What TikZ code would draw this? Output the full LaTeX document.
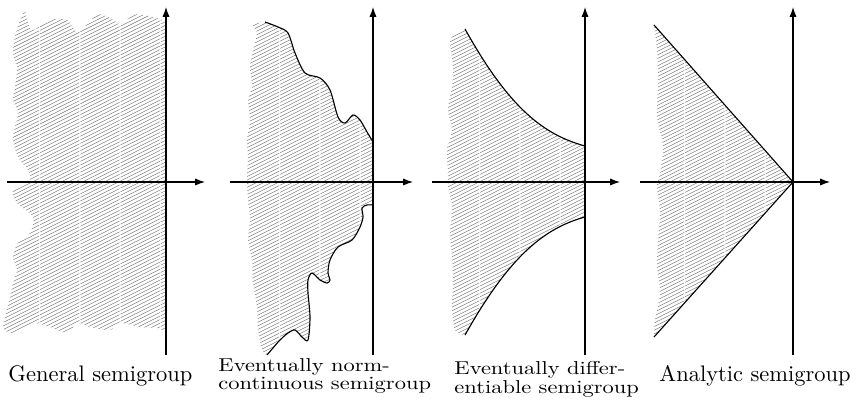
\documentclass[tikz,border=0pt]{standalone}
\usepackage{amsfonts,amssymb,amsmath}
\usepackage{tikz}
\usetikzlibrary{arrows.meta}

\tikzset{
  axis/.style={line width=0.5pt,-{Latex[length=4.4pt,width=3.2pt]}},
  edge/.style={line width=0.5pt},
  hatch/.style={draw=black!55,line width=0.2pt,dash pattern=on 19.5pt off 0.5pt},
  lbl/.style={anchor=base west,inner sep=0pt,font=\fontsize{10}{12}\selectfont},
  lbltwo/.style={lbl,align=left,yscale=0.83,font=\fontsize{10}{7}\selectfont}
}
\newcommand{\hatchlines}[1]{\foreach \k in {0,...,130}{\draw[hatch](#1,\k*3.6)--++(180,-90);}}

\begin{document}
\begin{tikzpicture}[x=0.01564cm,y=-0.01564cm]
\useasboundingbox (0,0) rectangle (856,404);
% general semigroup
\begin{scope}
\clip plot[smooth] coordinates {(25,10) (20,20) (15,37) (13,53) (17,67) (15,87) (13,100) (18,113) (15,127) (13,140) (18,157) (28,170) (30,180) (13,190) (17,203) (33,217) (30,233) (18,243) (13,257) (17,270) (13,283) (10,297) (7,310) (3,327) (10,333) (20,330) (33,323) (50,327) (67,333) (77,323) (90,327) (110,330) (120,323) (140,327) (157,328) (166,332)}
  -- (166,22) -- plot[smooth] coordinates {(166,22) (157,18) (143,15) (132,15) (122,25) (110,18) (97,15) (78,32) (67,20) (50,20) (32,30) (25,10)} -- cycle;
\hatchlines{0}
\end{scope}
\draw[axis](7,182)--(205,182);
\draw[axis](166,355)--(166,7);
% eventually norm-continuous
\begin{scope}
\clip plot[smooth] coordinates {(265,22) (253,25) (257,33) (253,50) (250,67) (252,87) (248,100) (250,120) (247,140) (248,157) (247,180) (248,200) (250,220) (248,240) (252,260) (253,283) (257,307) (258,330) (262,350) (267,355)}
  -- plot[smooth] coordinates {(267,355) (273,348) (280,340) (288,333) (295,330) (302,337) (308,340) (310,317) (308,293) (308,280) (312,273) (320,280) (327,283) (330,280) (328,273) (330,260) (338,247) (352,240) (360,227) (363,217) (362,208) (367,205) (373,205)}
  -- (373,142) -- plot[smooth] coordinates {(372,142) (367,132) (360,120) (353,115) (345,123) (338,117) (330,90) (320,78) (305,73) (295,53) (288,33) (278,27) (265,22)} -- cycle;
\hatchlines{240}
\end{scope}
\draw[edge] plot[smooth] coordinates {(265,22) (278,27) (288,33) (295,53) (305,73) (320,78) (330,90) (338,117) (345,123) (353,115) (360,120) (367,132) (373,142)};
\draw[edge] plot[smooth] coordinates {(373,205) (367,205) (362,208) (363,217) (360,227) (352,240) (338,247) (330,260) (328,273) (330,280) (327,283) (320,280) (312,273) (308,280) (308,293) (310,317) (308,340) (302,337) (295,330) (288,333) (280,340) (273,348) (267,355)};
\draw[axis](230,182)--(413,182);
\draw[axis](373,355)--(373,7);
% eventually differentiable
\begin{scope}
\clip plot[smooth] coordinates {(465,29) (452,37) (450,43) (453,67) (452,87) (448,110) (452,130) (447,150) (448,173) (448,187) (452,207) (450,233) (452,257) (453,283) (452,307) (455,330) (465,335)}
  .. controls (510,255) and (545,228) .. (585,217) -- (585,146) .. controls (545,135) and (510,110) .. (465,29) -- cycle;
\hatchlines{440}
\end{scope}
\draw[edge](465,29) .. controls (510,110) and (545,135) .. (585,146);
\draw[edge](585,217) .. controls (545,228) and (510,255) .. (465,335);
\draw[axis](432,182)--(620,182);
\draw[axis](585,355)--(585,7);
% analytic
\begin{scope}
\clip plot[smooth] coordinates {(654,25) (657,50) (658,83) (657,117) (663,147) (660,173) (657,187) (660,213) (658,240) (657,267) (660,293) (655,320) (654,337)} -- (793,182) -- cycle;
\hatchlines{645}
\end{scope}
\draw[edge](654,25)--(793,182)--(654,337);
\draw[axis](640,182)--(830,182);
\draw[axis](793,355)--(793,7);
% labels
\node[lbl] (gen) at (8,381) {General semigroup};
\node[lbltwo] (norm) at (218,389) {Eventually norm-\\continuous semigroup};
\node[lbltwo] (diff) at (454,393) {Eventually differ-\\entiable semigroup};
\node[lbl] (ana) at (659,381.5) {Analytic semigroup};
\end{tikzpicture}
\end{document}
